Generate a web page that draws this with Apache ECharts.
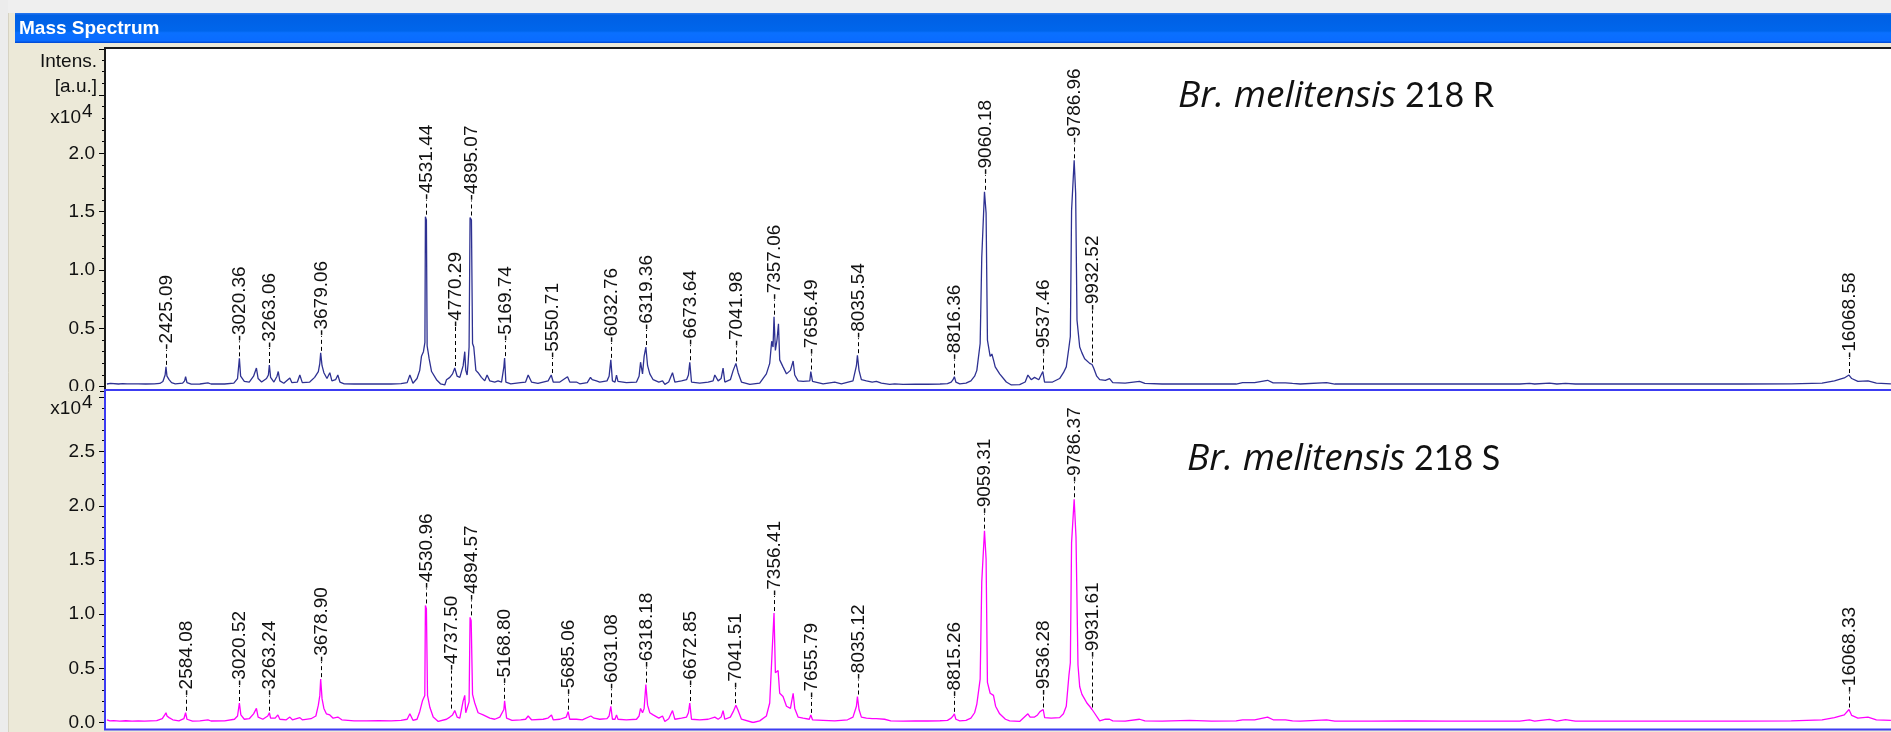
<!DOCTYPE html>
<html><head><meta charset="utf-8">
<script src="https://cdn.jsdelivr.net/npm/echarts@6/dist/echarts.min.js"></script>
<style>html,body{margin:0;padding:0;background:#ece9d8;overflow:hidden}#c{width:1891px;height:732px}</style>
</head><body><div id="c"></div>
<script>
// ---------------- data ----------------
const windowTitle = 'Mass Spectrum';
const speciesItalic = 'Br. melitensis';
const strainTop = '218 R';
const strainBottom = '218 S';
const yNameLines = ['Intens.', '[a.u.]'];
const yScaleBase = 'x10';
const yScaleExp = '4';
const yLabelsTop = [0, 5000, 10000, 15000, 20000];
const yLabelsBottom = [0, 5000, 10000, 15000, 20000, 25000];

// spectrum R (top): [m/z, intensity a.u.]
const spectrumR = [[1946,230],[1975,280],[1990,230],[2040,230],[2075,270],[2110,240],[2200,240],[2260,230],[2330,250],[2375,280],[2400,450],[2418,1000],[2425,1700],[2433,900],[2450,600],[2470,350],[2500,250],[2560,300],[2576,500],[2584,860],[2595,350],[2630,220],[2700,230],[2765,330],[2790,230],[2900,230],[2975,300],[3005,700],[3020,2430],[3030,900],[3060,450],[3100,400],[3135,900],[3158,1600],[3172,700],[3200,400],[3240,700],[3255,1000],[3263,1860],[3273,800],[3300,400],[3325,900],[3335,1300],[3348,500],[3380,300],[3429,750],[3445,350],[3490,400],[3510,1000],[3530,350],[3590,400],[3630,800],[3660,1300],[3672,2000],[3679,2900],[3690,1800],[3705,1200],[3730,700],[3753,1200],[3770,500],[3800,600],[3818,1000],[3835,400],[3870,250],[3950,230],[4050,230],[4150,240],[4250,230],[4330,260],[4380,350],[4402,1000],[4427,300],[4460,700],[4482,1400],[4496,2600],[4512,3000],[4524,3800],[4528,14570],[4536,14300],[4542,3500],[4548,3100],[4558,2400],[4578,1300],[4618,600],[4650,250],[4685,150],[4699,600],[4726,800],[4748,1100],[4766,1600],[4785,900],[4807,800],[4834,1800],[4847,3000],[4855,1400],[4866,1000],[4874,2000],[4882,3400],[4890,14500],[4901,14300],[4910,3700],[4920,3400],[4937,1400],[4955,1200],[4982,800],[5009,500],[5028,1000],[5050,500],[5090,400],[5117,500],[5145,400],[5164,1700],[5170,2450],[5180,400],[5220,250],[5300,350],[5340,400],[5361,1000],[5388,400],[5440,280],[5482,400],[5523,500],[5548,1000],[5564,400],[5618,400],[5680,850],[5698,400],[5752,400],[5779,250],[5840,350],[5866,800],[5880,600],[5895,750],[5914,500],[5941,400],[6000,500],[6017,900],[6031,2300],[6044,500],[6065,400],[6077,1000],[6089,450],[6157,350],[6239,400],[6260,900],[6272,2100],[6288,1100],[6301,2600],[6315,3400],[6329,1800],[6347,1100],[6374,600],[6420,400],[6450,500],[6469,200],[6500,400],[6531,1200],[6550,400],[6604,500],[6645,600],[6660,1000],[6671,2100],[6685,400],[6752,300],[6820,400],[6860,500],[6874,1000],[6901,500],[6925,700],[6941,1600],[6955,400],[7000,600],[7023,1400],[7045,2000],[7063,1200],[7090,400],[7158,200],[7238,300],[7292,1100],[7319,2000],[7335,3900],[7346,3400],[7354,6000],[7365,3100],[7378,4000],[7390,5400],[7400,2300],[7427,1700],[7455,1100],[7487,1400],[7509,2200],[7522,1000],[7549,500],[7590,450],[7644,500],[7652,1300],[7666,450],[7752,250],[7846,400],[7900,250],[7994,500],[8022,1800],[8030,2700],[8043,1400],[8062,600],[8103,500],[8150,400],[8184,450],[8224,300],[8292,200],[8332,250],[8400,200],[8500,220],[8600,210],[8700,230],[8760,270],[8790,400],[8805,600],[8816,860],[8828,400],[8860,250],[8910,300],[8950,500],[8980,900],[8998,1400],[9025,3700],[9038,11100],[9060,16700],[9073,14900],[9084,4000],[9106,2600],[9120,2800],[9133,2300],[9147,1700],[9183,1100],[9237,400],[9278,150],[9345,180],[9390,400],[9412,1000],[9439,600],[9466,800],[9500,600],[9533,1300],[9547,400],[9612,400],[9669,700],[9700,1200],[9723,1700],[9745,3400],[9756,4300],[9766,15100],[9787,19400],[9799,16600],[9810,5700],[9832,3400],[9850,2900],[9872,2400],[9913,2000],[9932,1900],[9945,1600],[9970,900],[9994,600],[10040,550],[10074,700],[10100,350],[10200,300],[10317,450],[10360,280],[10500,230],[10723,250],[10900,230],[11100,230],[11152,350],[11250,350],[11355,550],[11400,330],[11500,330],[11557,280],[11620,230],[11833,350],[11900,230],[12200,230],[12500,240],[12800,230],[13100,230],[13400,230],[13478,280],[13520,230],[13640,300],[13700,230],[13770,280],[13850,230],[14200,230],[14700,230],[15200,230],[15600,240],[15850,300],[15950,500],[16030,750],[16068,1000],[16090,700],[16140,450],[16222,500],[16290,300],[16408,240]];

// spectrum S (bottom)
const spectrumS = [[1946,250],[1970,150],[2000,170],[2050,120],[2100,160],[2150,130],[2200,150],[2250,130],[2300,150],[2350,170],[2395,350],[2415,700],[2425,900],[2433,600],[2450,450],[2480,250],[2530,150],[2570,350],[2584,900],[2595,300],[2640,130],[2700,150],[2765,250],[2790,140],[2900,150],[2980,300],[3005,600],[3020,1800],[3032,700],[3060,300],[3100,350],[3135,800],[3158,1300],[3172,500],[3210,300],[3250,600],[3263,900],[3273,400],[3310,400],[3332,700],[3348,300],[3400,250],[3429,500],[3450,250],[3510,450],[3530,250],[3600,350],[3640,600],[3660,1600],[3672,2500],[3679,4000],[3690,2200],[3705,1300],[3725,800],[3753,700],[3780,400],[3818,500],[3850,250],[3950,150],[4050,150],[4150,160],[4250,150],[4330,200],[4380,300],[4402,800],[4427,200],[4460,300],[4482,1000],[4504,2000],[4523,2500],[4528,10800],[4536,10500],[4545,2500],[4564,1400],[4591,500],[4632,100],[4699,300],[4726,500],[4748,700],[4766,1100],[4785,500],[4807,400],[4834,2000],[4847,2500],[4855,900],[4866,900],[4882,1900],[4890,9700],[4899,9400],[4910,2600],[4928,1800],[4955,900],[4996,700],[5050,400],[5090,300],[5131,500],[5164,1200],[5170,2000],[5186,400],[5230,200],[5300,250],[5340,300],[5361,600],[5388,250],[5482,300],[5520,400],[5550,700],[5564,250],[5618,300],[5670,500],[5685,1000],[5698,300],[5752,300],[5800,250],[5869,600],[5895,400],[5941,300],[6000,350],[6017,600],[6031,1500],[6044,300],[6065,300],[6077,700],[6089,300],[6157,250],[6239,300],[6260,600],[6272,1300],[6288,900],[6301,1300],[6315,3500],[6329,1600],[6347,900],[6374,700],[6420,400],[6450,600],[6469,100],[6500,350],[6531,1100],[6550,300],[6604,400],[6645,500],[6660,900],[6671,1800],[6685,300],[6752,250],[6820,300],[6874,500],[6901,300],[6925,500],[6941,1100],[6955,300],[7000,500],[7023,1000],[7045,1600],[7063,1100],[7090,300],[7184,0],[7238,150],[7292,600],[7319,1800],[7340,6900],[7354,10100],[7365,4600],[7376,4700],[7387,4800],[7400,2700],[7427,2400],[7455,1500],[7487,1300],[7509,2700],[7522,1300],[7549,500],[7590,400],[7640,300],[7652,700],[7666,250],[7752,200],[7846,150],[7950,250],[7994,500],[8022,1500],[8030,2400],[8043,1200],[8062,500],[8103,400],[8150,350],[8184,350],[8250,300],[8300,150],[8400,130],[8500,150],[8600,140],[8700,160],[8760,200],[8790,400],[8805,600],[8816,800],[8828,300],[8860,150],[8910,200],[8950,400],[8980,900],[8998,1700],[9025,4000],[9038,13000],[9060,17700],[9073,15100],[9084,3700],[9106,2700],[9120,2600],[9133,2500],[9150,1500],[9183,800],[9230,300],[9264,150],[9345,100],[9412,800],[9430,500],[9445,600],[9466,500],[9490,700],[9510,1000],[9536,1200],[9548,450],[9600,400],[9669,450],[9700,800],[9723,1500],[9745,4400],[9756,5500],[9766,16600],[9787,20600],[9802,17100],[9818,5300],[9832,3300],[9850,2600],[9870,2200],[9890,1800],[9912,1500],[9932,1200],[9950,900],[9994,150],[10040,300],[10074,300],[10100,150],[10200,120],[10317,300],[10360,150],[10500,130],[10723,200],[10900,130],[11100,150],[11152,250],[11250,250],[11355,500],[11400,250],[11500,250],[11557,150],[11620,130],[11833,250],[11900,130],[12200,130],[12500,140],[12800,130],[13100,130],[13400,130],[13478,250],[13520,130],[13640,280],[13700,130],[13770,260],[13850,130],[14200,130],[14700,130],[15200,130],[15600,150],[15850,250],[15950,450],[16030,700],[16068,1200],[16090,650],[16140,400],[16222,500],[16290,250],[16408,200]];

// labelled peaks: [m/z, peak intensity]
const peaksR = [[2425.09,1700],[3020.36,2430],[3263.06,1860],[3679.06,2900],[4531.44,14570],[4770.29,1600],[4895.07,14500],[5169.74,2450],[5550.71,1000],[6032.76,2300],[6319.36,3400],[6673.64,2100],[7041.98,2000],[7357.06,6000],[7656.49,1300],[8035.54,2700],[8816.36,860],[9060.18,16700],[9537.46,1300],[9786.96,19400],[9932.52,1900],[16068.58,1000]];
const peaksS = [[2584.08,900],[3020.52,1800],[3263.24,900],[3678.90,4000],[4530.96,10800],[4737.50,1100],[4894.57,9700],[5168.80,2000],[5685.06,1000],[6031.08,1500],[6318.18,3500],[6672.85,1800],[7041.51,1600],[7356.41,10100],[7655.79,700],[8035.12,2400],[8815.26,800],[9059.31,17700],[9536.28,1200],[9786.37,20600],[9931.61,1200],[16068.33,1200]];

// ---------------- layout / style ----------------
const W = 1891, H = 732;
const X_MIN = 1938.7, X_MAX = 16408.6;
const TOP_MAX = 28940, BOT_MAX = 30590;
const FONT = '"Liberation Sans", Arial, sans-serif';
const LABEL_FONT = '19px ' + FONT;
const leaderExtraR = {'4770.29': 24, '9932.52': 37};
const leaderExtraS = {'4737.50': 23, '9931.61': 35, '9536.28': -3};
const colR = '#2e3192', colS = '#ff00ff', frameBlue = '#3c3cf2';

function peakLabels(data, idx, extra) {
  return {
    type: 'custom', xAxisIndex: idx, yAxisIndex: idx, data: data, z: 6, silent: true,
    renderItem: function (params, api) {
      const mz = api.value(0), h = api.value(1);
      const p = api.coord([mz, h]);
      const txt = mz.toFixed(2);
      const L = 15 + (extra[txt] || 0);
      const x = Math.round(p[0]) + 0.5;
      const y0 = p[1] - 2, y1 = y0 - L;
      return {type: 'group', children: [
        {type: 'line', shape: {x1: x, y1: y0, x2: x, y2: y1}, style: {stroke: '#000', lineWidth: 1, lineDash: [4, 3]}},
        {type: 'text', x: x, y: y1, rotation: Math.PI / 2,
         style: {text: '-' + txt, font: LABEL_FONT, fill: '#111', align: 'left', verticalAlign: 'middle'}}
      ]};
    }
  };
}
function yAxisCfg(gi, max, labels) {
  return {
    type: 'value', gridIndex: gi, min: 0, max: max, interval: 5000,
    axisLine: {show: false}, splitLine: {show: false},
    axisTick: {show: true, length: 7, lineStyle: {color: '#000', width: 1}},
    minorTick: {show: true, splitNumber: 5, length: 4, lineStyle: {color: '#000', width: 1}},
    axisLabel: {margin: 11, fontSize: 19, fontFamily: FONT, color: '#111',
      formatter: function (v) { return labels.indexOf(v) >= 0 ? (v / 1e4).toFixed(1) : ''; }}
  };
}
function lineSeries(data, idx, color) {
  return {type: 'line', xAxisIndex: idx, yAxisIndex: idx, data: data, symbol: 'none', showSymbol: false,
    z: 5, silent: true, lineStyle: {color: color, width: 1.3}};
}
function speciesText(x, y, strain) {
  return {type: 'text', x: x, y: y, z: 30, silent: true, style: {
    text: '{i|' + speciesItalic + '}{n| ' + strain + '}', verticalAlign: 'middle', align: 'left',
    rich: {i: {fontFamily: '"Open Sans"', fontStyle: 'italic', fontSize: 37, fill: '#111', color: '#111'},
           n: {fontFamily: 'Lato', fontSize: 34, fill: '#111', color: '#111'}}}};
}
function txt(x, y, s, align, extra) {
  return Object.assign({type: 'text', x: x, y: y, z: 30, silent: true,
    style: {text: s, font: '19px ' + FONT, fill: '#111', align: align, verticalAlign: 'middle'}}, extra || {});
}

const chart = echarts.init(document.getElementById('c'), null, {renderer: 'canvas', width: W, height: H});
chart.setOption({
  animation: false,
  backgroundColor: '#ece9d8',
  grid: [
    {left: 106, width: W - 106, top: 49, height: 337.7},
    {left: 106, width: W - 106, top: 391, height: 334}
  ],
  xAxis: [
    {type: 'value', gridIndex: 0, min: X_MIN, max: X_MAX, show: false},
    {type: 'value', gridIndex: 1, min: X_MIN, max: X_MAX, show: false}
  ],
  yAxis: [yAxisCfg(0, TOP_MAX, yLabelsTop), yAxisCfg(1, BOT_MAX, yLabelsBottom)],
  series: [
    lineSeries(spectrumR, 0, colR),
    lineSeries(spectrumS, 1, colS),
    peakLabels(peaksR, 0, leaderExtraR),
    peakLabels(peaksS, 1, leaderExtraS)
  ],
  graphic: [
    {type: 'rect', z: -5, silent: true, shape: {x: 0, y: 0, width: W, height: 13}, style: {fill: '#efefef'}},
    {type: 'rect', z: -5, silent: true, shape: {x: 0, y: 0, width: 8, height: H}, style: {fill: '#ececec'}},
    {type: 'line', z: -4, silent: true, shape: {x1: 8.5, y1: 13, x2: 8.5, y2: H}, style: {stroke: '#d6d2c2', lineWidth: 1}},
    {type: 'rect', z: -4, silent: true, shape: {x: 15, y: 13, width: W - 15, height: 30},
      style: {fill: {type: 'linear', x: 0, y: 0, x2: 0, y2: 1, colorStops: [
        {offset: 0, color: '#2a78f0'}, {offset: 0.08, color: '#0060e4'}, {offset: 0.6, color: '#0066ec'},
        {offset: 0.66, color: '#0a70ff'}, {offset: 0.92, color: '#0a6cff'}, {offset: 1, color: '#0046d0'}]}}},
    {type: 'text', z: 30, silent: true, x: 19, y: 28.5,
      style: {text: windowTitle, font: 'bold 19px ' + FONT, fill: '#ffffff', align: 'left', verticalAlign: 'middle'}},
    {type: 'rect', z: -3, silent: true, shape: {x: 106, y: 49, width: W - 106, height: 341}, style: {fill: '#ffffff'}},
    {type: 'rect', z: -3, silent: true, shape: {x: 106, y: 391, width: W - 106, height: 338}, style: {fill: '#ffffff'}},
    {type: 'line', z: 20, silent: true, shape: {x1: 104, y1: 48, x2: W, y2: 48}, style: {stroke: '#1a1a1a', lineWidth: 2}},
    {type: 'line', z: 20, silent: true, shape: {x1: 105, y1: 47, x2: 105, y2: 390}, style: {stroke: '#1a1a1a', lineWidth: 2}},
    {type: 'rect', z: 21, silent: true, shape: {x: 105, y: 390, width: W, height: 339.5},
      style: {fill: null, stroke: frameBlue, lineWidth: 2}},
    {type: 'rect', z: 19, silent: true, shape: {x: 30, y: 391, width: 70, height: 5}, style: {fill: '#ece9d8'}},
    speciesText(1178, 96, strainTop),
    speciesText(1187, 459, strainBottom),
    txt(97, 62, yNameLines[0], 'right'),
    txt(97, 87, yNameLines[1], 'right'),
    txt(81, 118, yScaleBase, 'right'),
    txt(82, 112, yScaleExp, 'left'),
    txt(81, 408.5, yScaleBase, 'right'),
    txt(82, 403, yScaleExp, 'left')
  ]
});
</script></body></html>
